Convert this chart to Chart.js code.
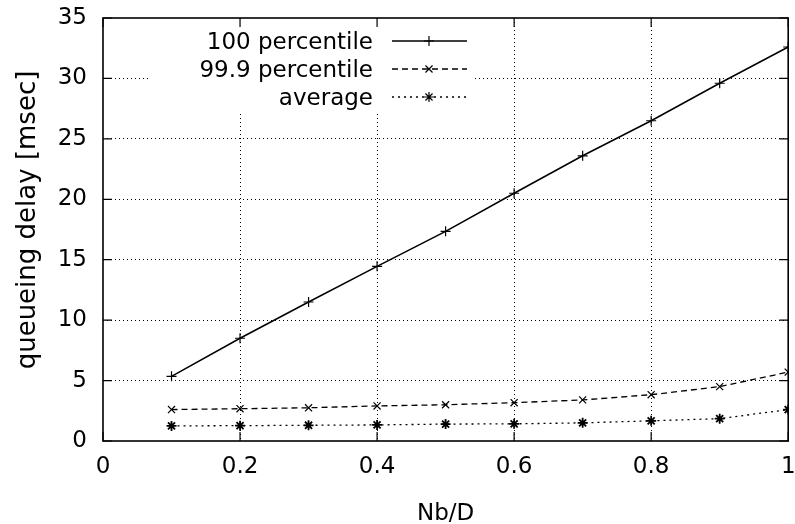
<!DOCTYPE html>
<html>
<head>
<meta charset="utf-8">
<script src="https://cdn.jsdelivr.net/npm/chart.js@4/dist/chart.umd.min.js"></script>
<style>
  html, body { margin: 0; padding: 0; background: #fff; }
  #wrap { width: 795px; height: 524px; }
</style>
</head>
<body>
<div id="wrap"><canvas id="delayChart" width="795" height="524"></canvas></div>
<script>
const nbD = [0.1, 0.2, 0.3, 0.4, 0.5, 0.6, 0.7, 0.8, 0.9, 1.0];
const pct100 = [5.35, 8.5, 11.5, 14.45, 17.35, 20.5, 23.6, 26.5, 29.6, 32.6];
const pct999 = [2.6, 2.67, 2.75, 2.9, 3.0, 3.17, 3.4, 3.83, 4.5, 5.7];
const average = [1.25, 1.27, 1.3, 1.33, 1.4, 1.42, 1.5, 1.67, 1.85, 2.6];
const seriesNames = ["100 percentile", "99.9 percentile", "average"];
const yTitle = "queueing delay [msec]";

const FONT = "'DejaVu Sans', Arial, sans-serif";

const toPoints = (ys) => nbD.map((x, i) => ({ x: x, y: ys[i] }));

// gnuplot style frame, inward ticks, y title and the key drawn by hand
const gnuplotFrame = {
  id: "gnuplotFrame",
  beforeDatasetsDraw(chart) {
    const { ctx } = chart;
    ctx.save();
    ctx.fillStyle = "#fff";
    ctx.fillRect(150, 20, 322, 94);
    ctx.restore();
  },
  afterDatasetsDraw(chart) {
    const { ctx, chartArea: a, scales } = chart;
    ctx.save();
    ctx.strokeStyle = "#000";
    ctx.lineWidth = 1.6;
    ctx.strokeRect(a.left, a.top, a.right - a.left, a.bottom - a.top);
    ctx.lineWidth = 1.2;
    ctx.beginPath();
    scales.x.ticks.forEach((t) => {
      const px = scales.x.getPixelForValue(t.value);
      ctx.moveTo(px, a.bottom); ctx.lineTo(px, a.bottom - 9);
      ctx.moveTo(px, a.top); ctx.lineTo(px, a.top + 9);
    });
    scales.y.ticks.forEach((t) => {
      const py = scales.y.getPixelForValue(t.value);
      ctx.moveTo(a.left, py); ctx.lineTo(a.left + 9, py);
      ctx.moveTo(a.right, py); ctx.lineTo(a.right - 9, py);
    });
    ctx.stroke();

    // y axis title
    ctx.save();
    ctx.translate(35, 220);
    ctx.rotate(-Math.PI / 2);
    ctx.font = "26px " + FONT;
    ctx.fillStyle = "#000";
    ctx.textAlign = "center";
    ctx.textBaseline = "alphabetic";
    ctx.fillText(yTitle, 0, 0);
    ctx.restore();

    // key
    ctx.font = "23px " + FONT;
    ctx.fillStyle = "#000";
    ctx.textAlign = "right";
    ctx.textBaseline = "alphabetic";
    chart.data.datasets.forEach((ds, i) => {
      const y = 41 + i * 28;
      ctx.fillText(ds.label, 373, y + 8);
      ctx.save();
      ctx.strokeStyle = ds.borderColor;
      ctx.lineWidth = ds.borderWidth;
      ctx.setLineDash(ds.borderDash || []);
      ctx.beginPath();
      ctx.moveTo(392, y); ctx.lineTo(467, y);
      ctx.stroke();
      ctx.restore();
      Chart.helpers.drawPoint(ctx, {
        pointStyle: ds.pointStyle,
        radius: ds.pointRadius,
        rotation: 0,
        borderWidth: ds.pointBorderWidth
      }, 429, y);
    });
    ctx.restore();
  }
};

new Chart(document.getElementById("delayChart").getContext("2d"), {
  type: "line",
  data: {
    datasets: [
      {
        label: seriesNames[0],
        data: toPoints(pct100),
        borderColor: "#000",
        borderWidth: 1.5,
        pointStyle: "cross",
        pointRadius: 5,
        pointBorderWidth: 1.2,
        pointBorderColor: "#000",
        fill: false
      },
      {
        label: seriesNames[1],
        data: toPoints(pct999),
        borderColor: "#000",
        borderWidth: 1.3,
        borderDash: [6, 4],
        pointStyle: "crossRot",
        pointRadius: 5,
        pointBorderWidth: 1.2,
        pointBorderColor: "#000",
        fill: false
      },
      {
        label: seriesNames[2],
        data: toPoints(average),
        borderColor: "#000",
        borderWidth: 1.3,
        borderDash: [2, 4],
        pointStyle: "star",
        pointRadius: 5,
        pointBorderWidth: 1.8,
        pointBorderColor: "#000",
        fill: false
      }
    ]
  },
  options: {
    responsive: false,
    animation: false,
    layout: { padding: { top: 18, right: 2, left: 0, bottom: 0 } },
    plugins: {
      legend: { display: false },
      tooltip: { enabled: false }
    },
    scales: {
      x: {
        type: "linear",
        min: 0,
        max: 1,
        ticks: {
          stepSize: 0.2,
          color: "#000",
          font: { family: FONT, size: 23 },
          padding: 12,
          maxRotation: 0,
          callback: (v) => String(Number(v.toFixed(1)))
        },
        grid: {
          color: (c) => (c.tick && (c.tick.value === 0 || c.tick.value === 1) ? "rgba(0,0,0,0)" : "#000"),
          lineWidth: 1,
          drawTicks: false
        },
        border: { display: false, dash: [1, 3] },
        title: {
          display: true,
          text: "Nb/D",
          color: "#000",
          font: { family: FONT, size: 23 },
          padding: { top: 8, bottom: -4 }
        },
        afterFit(scale) {
          scale.height = 83;
          scale.paddingLeft = 0;
          scale.paddingRight = 0;
        }
      },
      y: {
        min: 0,
        max: 35,
        ticks: {
          stepSize: 5,
          color: "#000",
          font: { family: FONT, size: 23 },
          padding: 16
        },
        grid: {
          color: (c) => (c.tick && (c.tick.value === 0 || c.tick.value === 35) ? "rgba(0,0,0,0)" : "#000"),
          lineWidth: 1,
          drawTicks: false
        },
        border: { display: false, dash: [1, 3] },
        afterFit(scale) {
          scale.width = 103;
          scale.paddingTop = 0;
          scale.paddingBottom = 0;
        }
      }
    }
  },
  plugins: [gnuplotFrame]
});
</script>
</body>
</html>
